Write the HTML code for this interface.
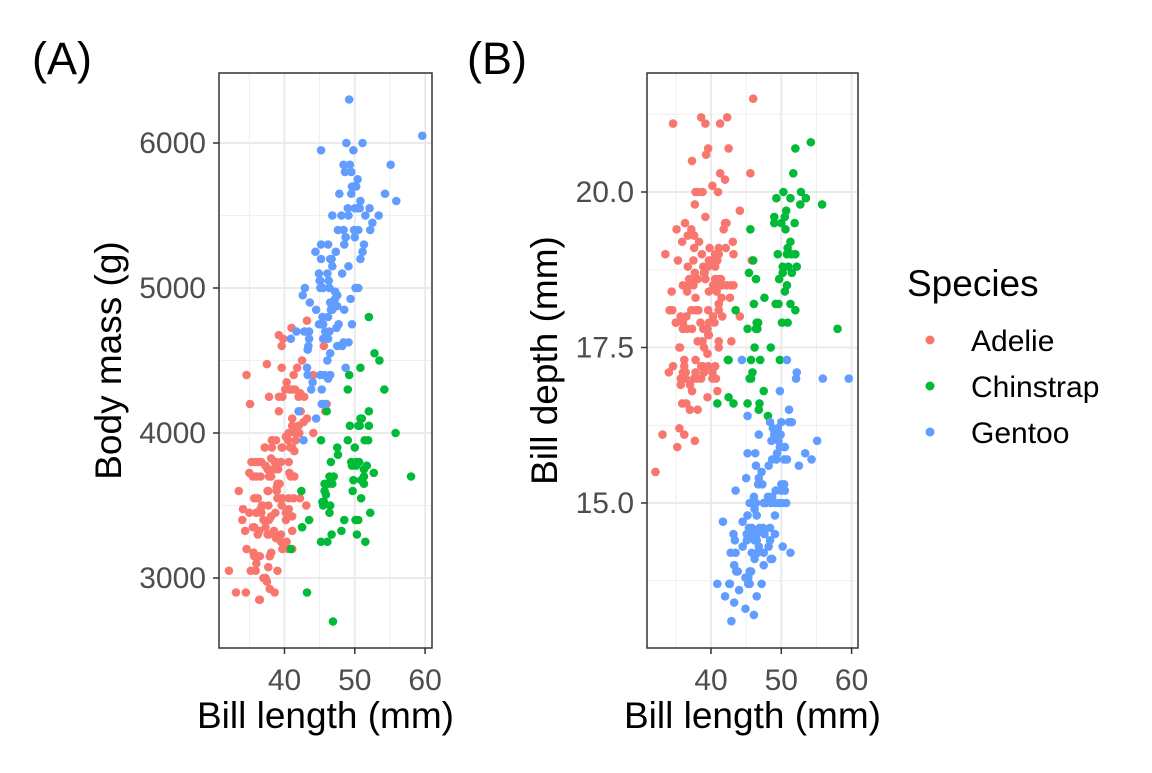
<!DOCTYPE html>
<html><head><meta charset="utf-8"><style>
body{margin:0;background:#fff;}
svg text{font-family:"Liberation Sans",sans-serif;}
</style></head><body>
<svg id="chart" width="1152" height="768" xmlns="http://www.w3.org/2000/svg">
<rect width="1152" height="768" fill="#fff"/>
<text x="32" y="74" font-size="45">(A)</text>
<text x="467" y="74" font-size="45">(B)</text>
<g id="pa"></g>
<g id="pb"></g>
<g>
<text x="907" y="296" font-size="37">Species</text>
<g><circle cx="930" cy="340" r="4.5" fill="#F8766D"/><text x="971" y="351" font-size="30">Adelie</text></g>
<g><circle cx="930" cy="386" r="4.5" fill="#00BA38"/><text x="971" y="397" font-size="30">Chinstrap</text></g>
<g><circle cx="930" cy="432" r="4.5" fill="#619CFF"/><text x="971" y="443" font-size="30">Gentoo</text></g>
</g>
</svg>
<script>
const speciesNames = ["Adelie","Chinstrap","Gentoo"];
const speciesColors = ["#F8766D","#00BA38","#619CFF"];
const adelie = [[39.1,18.7,3750],[39.5,17.4,3800],[40.3,18.0,3250],[36.7,19.3,3450],[39.3,20.6,3650],[38.9,17.8,3625],[39.2,19.6,4675],[34.1,18.1,3475],[42.0,20.2,4250],[37.8,17.1,3300],[37.8,17.3,3700],[41.1,17.6,3200],[38.6,21.2,3800],[34.6,21.1,4400],[36.6,17.8,3700],[38.7,19.0,3450],[42.5,20.7,4500],[34.4,18.4,3325],[46.0,21.5,4200],[37.8,18.3,3400],[37.7,18.7,3600],[35.9,19.2,3800],[38.2,18.1,3950],[38.8,17.2,3800],[35.3,18.9,3800],[40.6,18.6,3550],[40.5,17.9,3200],[37.9,18.6,3150],[40.5,18.9,3950],[39.5,16.7,3250],[37.2,18.1,3900],[39.5,17.8,3300],[40.9,18.9,3900],[36.4,17.0,3325],[39.2,21.1,4150],[38.8,20.0,3950],[42.2,18.5,3550],[37.6,19.3,3300],[39.8,19.1,4650],[36.5,18.0,3150],[40.8,18.4,3900],[36.0,18.5,3100],[44.1,19.7,4400],[37.0,16.9,3000],[39.6,18.8,4600],[41.1,19.0,3425],[37.5,18.9,2975],[36.0,17.9,3450],[42.3,21.2,4150],[39.6,17.7,3500],[40.1,18.9,4300],[35.0,17.9,3450],[42.0,19.5,4050],[34.5,18.1,2900],[41.4,18.6,3700],[39.0,17.5,3550],[40.6,18.8,3800],[36.5,16.6,2850],[37.6,19.1,3750],[35.7,16.9,3150],[41.3,21.1,4400],[37.6,17.0,3600],[41.1,18.2,4050],[36.4,17.1,2850],[41.6,18.0,3950],[35.5,16.2,3350],[41.1,19.1,4100],[35.9,16.6,3050],[41.8,19.4,4450],[33.5,19.0,3600],[39.7,18.4,3900],[39.6,17.2,3550],[45.8,18.9,4150],[35.5,17.5,3700],[42.8,18.5,4250],[40.9,16.8,3700],[37.2,19.4,3900],[36.2,16.1,3550],[42.1,19.1,4000],[34.6,17.2,3200],[42.9,17.6,4700],[36.7,18.8,3800],[35.1,19.4,4200],[37.3,17.8,3350],[41.3,20.3,3550],[36.3,19.5,3800],[36.9,18.6,3500],[38.3,19.2,3950],[38.9,18.8,3600],[35.7,18.0,3550],[41.1,18.1,4300],[34.0,17.1,3400],[39.6,18.1,4450],[36.2,17.3,3300],[40.8,18.9,4300],[38.1,18.6,3700],[40.3,18.5,4350],[33.1,16.1,2900],[43.2,18.5,4100],[35.0,17.9,3725],[41.0,20.0,4725],[37.7,16.0,3075],[37.8,20.0,4250],[37.9,18.6,2925],[39.7,18.9,3550],[38.6,17.2,3750],[38.2,20.0,3900],[38.1,17.0,3175],[43.2,19.0,4775],[38.1,16.5,3825],[45.6,20.3,4600],[39.7,17.7,3200],[42.2,19.5,4275],[39.6,20.7,3900],[42.7,18.3,4075],[38.6,17.0,2900],[37.3,20.5,3775],[35.7,17.0,3350],[41.1,18.6,3325],[36.2,17.2,3150],[37.7,19.8,3500],[40.2,17.0,3450],[41.4,18.5,3875],[35.2,15.9,3050],[40.6,19.0,4000],[38.8,17.6,3275],[41.5,18.3,4300],[39.0,17.1,3050],[44.1,18.0,4000],[38.5,17.9,3325],[43.1,19.2,3500],[36.8,18.5,3500],[37.5,18.5,4475],[38.1,17.6,3425],[41.1,17.5,3900],[35.6,17.5,3175],[40.2,20.1,3975],[37.0,16.5,3400],[39.7,17.9,4250],[40.2,17.1,3400],[40.6,17.2,3475],[32.1,15.5,3050],[40.7,17.0,3725],[37.3,16.8,3000],[39.0,18.7,3650],[39.2,18.6,4250],[36.6,18.4,3475],[36.0,17.8,3450],[37.8,18.1,3750],[36.0,17.1,3700],[41.5,18.5,4000]];
const chinstrap = [[46.5,17.9,3500],[50.0,19.5,3900],[51.3,19.2,3650],[45.4,18.7,3525],[52.7,19.8,3725],[45.2,17.8,3950],[46.1,18.2,3250],[51.3,18.2,3750],[46.0,18.9,4150],[51.3,19.9,3700],[46.6,17.8,3800],[51.7,20.3,3775],[47.0,17.3,3700],[52.0,18.1,4050],[45.9,17.1,3575],[50.5,19.6,4050],[50.3,20.0,3300],[58.0,17.8,3700],[46.4,18.6,3450],[49.2,18.2,4400],[42.4,17.3,3600],[48.5,17.5,3400],[43.2,16.6,2900],[50.6,19.4,3800],[46.7,17.9,3300],[52.0,19.0,4150],[50.5,18.4,3400],[49.5,19.0,3800],[46.4,17.8,3700],[52.8,20.0,4550],[40.9,16.6,3200],[54.2,20.8,4300],[42.5,16.7,3350],[51.0,18.8,4100],[49.7,18.6,3600],[47.5,16.8,3900],[47.6,18.3,3850],[52.0,20.7,4800],[46.9,16.6,2700],[53.5,19.9,4500],[49.0,19.5,3950],[46.2,17.5,3650],[50.9,19.1,3550],[45.5,17.0,3500],[50.9,17.9,3675],[50.8,18.5,4450],[50.1,17.9,3400],[49.0,19.6,4300],[51.5,18.7,3250],[49.8,17.3,3675],[48.1,16.4,3325],[51.4,19.0,3950],[45.7,17.3,3600],[50.7,19.7,4050],[42.5,17.3,3350],[52.2,18.8,3450],[45.2,16.6,3250],[49.3,19.9,4050],[50.2,18.8,3800],[45.6,19.4,3525],[51.9,19.5,3950],[46.8,16.5,3650],[45.7,17.0,3650],[55.8,19.8,4000],[43.5,18.1,3400],[49.6,18.2,3775],[50.8,19.0,4100],[50.2,18.7,3775]];
const gentoo = [[46.1,13.2,4500],[50.0,16.3,5700],[48.7,14.1,4450],[50.0,15.2,5700],[47.6,14.5,5400],[46.5,13.5,4550],[45.4,14.6,4800],[46.7,15.3,5200],[43.3,13.4,4400],[46.8,15.4,5150],[40.9,13.7,4650],[49.0,16.1,5550],[45.5,13.7,4650],[48.4,14.6,5850],[45.8,14.6,4200],[49.3,15.7,5850],[42.0,13.5,4150],[49.2,15.2,6300],[46.2,14.5,4800],[48.7,15.1,5350],[50.2,14.3,5700],[45.1,14.5,5000],[46.5,14.5,4400],[46.3,15.8,5050],[42.9,13.1,5000],[46.1,15.1,5100],[44.5,14.3,4100],[47.8,15.0,5650],[48.2,14.3,4600],[50.0,15.3,5550],[47.3,15.3,5250],[42.8,14.2,4700],[45.1,14.5,5050],[59.6,17.0,6050],[49.1,14.8,5150],[48.4,16.3,5400],[42.6,13.7,4950],[44.4,17.3,5250],[44.0,13.6,4350],[48.7,15.7,5350],[42.7,13.7,3950],[49.6,16.0,5700],[45.3,13.7,4300],[49.6,15.0,4750],[50.5,15.9,5550],[43.6,13.9,4900],[45.5,13.9,4200],[50.5,15.9,5400],[44.9,13.3,5100],[45.2,15.8,5300],[46.6,14.2,4850],[48.5,14.1,5300],[45.1,14.4,4400],[50.1,15.0,5000],[46.5,14.4,4900],[45.0,15.4,5050],[43.8,13.9,4300],[45.5,15.0,5000],[43.2,14.5,4450],[50.4,15.3,5550],[45.3,13.8,4200],[46.2,14.9,5300],[45.7,13.9,4400],[54.3,15.7,5650],[45.8,14.2,4700],[49.8,16.8,5700],[46.2,14.4,4650],[49.5,16.2,5800],[43.5,14.2,4700],[50.7,15.0,5550],[47.7,15.0,4750],[46.4,15.6,5000],[48.2,15.6,5100],[46.5,14.8,5200],[46.4,15.0,4700],[48.6,16.0,5800],[47.5,14.2,4600],[51.1,16.3,6000],[45.2,13.8,4750],[45.2,16.4,5950],[49.1,14.5,4625],[52.5,15.6,5450],[47.4,14.6,4725],[50.0,15.9,5350],[44.9,13.8,4750],[50.8,17.3,5600],[43.4,14.4,4600],[51.3,14.2,5300],[47.5,14.0,4875],[52.1,17.0,5550],[47.5,15.0,4950],[52.2,17.1,5400],[45.5,14.5,4750],[49.5,16.1,5650],[44.5,14.7,4850],[50.8,15.7,5200],[49.4,15.8,4925],[46.9,14.6,4875],[48.4,14.4,4625],[51.1,16.5,5250],[48.5,15.0,4850],[55.9,17.0,5600],[47.2,15.5,4975],[49.1,15.0,5500],[46.8,16.1,5500],[41.7,14.7,4700],[53.4,15.8,5500],[43.3,14.0,4575],[48.1,15.1,5500],[50.5,15.2,5000],[49.8,15.9,5950],[43.5,15.2,4650],[51.5,16.3,5500],[46.2,14.1,4375],[55.1,16.0,5850],[48.8,16.2,6000],[47.2,13.7,4925],[46.8,14.3,4850],[50.4,15.7,5750],[45.2,14.8,5200],[49.9,16.1,5400]];
const xTicks = [40,50,60];
const xMinor = [35,45,55];
const yTicksA = [3000,4000,5000,6000];
const yMinorA = [2500,3500,4500,5500];
const yTicksB = [15,17.5,20];
const yMinorB = [13.75,16.25,18.75,21.25];
const yLabelsB = ["15.0","17.5","20.0"];

const NS="http://www.w3.org/2000/svg";
function mk(parent,tag,attrs){const e=document.createElementNS(NS,tag);for(const k in attrs)e.setAttribute(k,attrs[k]);parent.appendChild(e);return e;}

function panel(g,opt){
  const {x0,x1,y0,y1,sx,sy,yt,ym,ylab,ytitle,yi,ytx}=opt;
  const clip=mk(g,'clipPath',{id:opt.id+'c'});mk(clip,'rect',{x:x0,y:y0,width:x1-x0,height:y1-y0});
  xMinor.forEach(v=>{const l=mk(g,'line',{x1:sx(v),x2:sx(v),y1:y0,y2:y1,stroke:'#EBEBEB','stroke-width':0.8});});
  ym.forEach(v=>{const y=sy(v);if(y<y0||y>y1)return;const l=mk(g,'line',{x1:x0,x2:x1,y1:y,y2:y,stroke:'#EBEBEB','stroke-width':0.8});});
  xTicks.forEach(v=>{const l=mk(g,'line',{x1:sx(v),x2:sx(v),y1:y0,y2:y1,stroke:'#EBEBEB','stroke-width':2});});
  yt.forEach(v=>{const l=mk(g,'line',{x1:x0,x2:x1,y1:sy(v),y2:sy(v),stroke:'#EBEBEB','stroke-width':2});});
  const pts=mk(g,'g',{'clip-path':'url(#'+opt.id+'c)'});
  
  
  [adelie,chinstrap,gentoo].forEach((arr,si)=>{arr.forEach(d=>{const c=mk(pts,'circle',{cx:sx(d[0]),cy:sy(d[yi]),r:4.3,fill:speciesColors[si]});});});
  const fr=mk(g,'rect',{x:x0,y:y0,width:x1-x0,height:y1-y0,fill:'none',stroke:'#333','stroke-width':1.5});
  
  xTicks.forEach(v=>{mk(g,'line',{x1:sx(v),x2:sx(v),y1:y1,y2:y1+6,stroke:'#333','stroke-width':1.5});const t=mk(g,'text',{x:sx(v),y:y1+42,'font-size':30,fill:'#4D4D4D','text-anchor':'middle'});t.textContent=v;});
  yt.forEach((v,i)=>{mk(g,'line',{x1:x0-6,x2:x0,y1:sy(v),y2:sy(v),stroke:'#333','stroke-width':1.5});const t=mk(g,'text',{x:x0-13,y:sy(v)+10,'font-size':30,fill:'#4D4D4D','text-anchor':'end'});t.textContent=ylab[i];});
  const xt=mk(g,'text',{x:(x0+x1)/2,y:728,'font-size':37,'text-anchor':'middle'});xt.textContent='Bill length (mm)';
  const yc=(y0+y1)/2;const ytt=mk(g,'text',{x:ytx,y:yc,'font-size':37,'text-anchor':'middle',transform:'rotate(-90 '+ytx+' '+yc+')'});ytt.textContent=ytitle;
}
panel(document.getElementById('pa'),{id:'a',x0:219,x1:432,y0:73,y1:648,
  sx:v=>284.5+(v-40)*7.03, sy:v=>578-(v-3000)*0.145, yt:yTicksA, ym:yMinorA, ylab:yTicksA.map(String),
  ytitle:'Body mass (g)', yi:2, ytx:121});
panel(document.getElementById('pb'),{id:'b',x0:647,x1:858,y0:73,y1:648,
  sx:v=>711+(v-40)*7.03, sy:v=>503-(v-15)*62.2, yt:yTicksB, ym:yMinorB, ylab:yLabelsB,
  ytitle:'Bill depth (mm)', yi:1, ytx:557});
</script>
</body></html>
